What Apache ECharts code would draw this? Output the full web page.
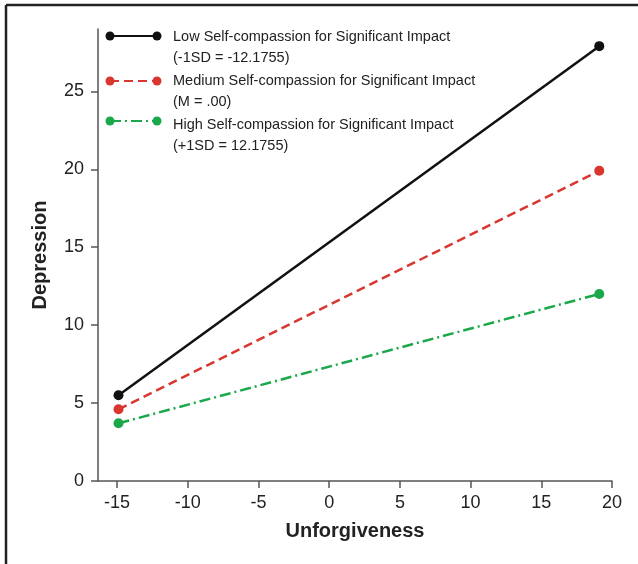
<!DOCTYPE html>
<html>
<head>
<meta charset="utf-8">
<script src="https://cdn.jsdelivr.net/npm/echarts@6/dist/echarts.min.js"></script>
<style>
html,body{margin:0;padding:0;background:#fff;}
#chart{width:638px;height:564px;}
</style>
</head>
<body>
<div id="chart"></div>
<script>
// ---- data ----
var seriesNames = [
  'Low Self-compassion for Significant Impact',
  'Medium Self-compassion for Significant Impact',
  'High Self-compassion for Significant Impact'
];
var seriesSubNames = ['(-1SD = -12.1755)', '(M = .00)', '(+1SD = 12.1755)'];
var xValues = [-14.9, 19.1];
var lowValues = [5.5, 27.9];
var mediumValues = [4.6, 19.9];
var highValues = [3.7, 12.0];
var xTicks = [-15, -10, -5, 0, 5, 10, 15, 20];
var yTicks = [0, 5, 10, 15, 20, 25];
var xAxisName = 'Unforgiveness';
var yAxisName = 'Depression';

// ---- styling ----
var colors = ['#111111', '#d8362f', '#1aa84a'];
var lineTypes = ['solid', [9, 5], [11, 4, 2, 4]];
var allValues = [lowValues, mediumValues, highValues];
var FONT = 'Liberation Sans, Arial, sans-serif';

var chart = echarts.init(document.getElementById('chart'), null, {renderer: 'canvas'});

var series = allValues.map(function (vals, i) {
  return {
    name: seriesNames[i],
    type: 'line',
    data: xValues.map(function (x, j) { return [x, vals[j]]; }),
    symbol: 'circle',
    symbolSize: 10,
    lineStyle: {color: colors[i], width: 2.5, type: lineTypes[i]},
    itemStyle: {color: colors[i]},
    z: 3 - i
  };
});

// legend drawn with graphic elements (line + two dots + two-line text)
var graphics = [
  {type: 'line', shape: {x1: 6, y1: 5, x2: 638, y2: 5}, style: {stroke: '#222', lineWidth: 2.5}},
  {type: 'line', shape: {x1: 6, y1: 5, x2: 6, y2: 564}, style: {stroke: '#222', lineWidth: 2.5}}
];
var legendIconY = [36, 81, 121];
var legendTextY = [37, 81, 125];
seriesNames.forEach(function (n, i) {
  var y = legendIconY[i];
  graphics.push({type: 'line', shape: {x1: 110, y1: y, x2: 157, y2: y},
    style: {stroke: colors[i], lineWidth: 2.2, lineDash: lineTypes[i] === 'solid' ? null : lineTypes[i]}});
  graphics.push({type: 'circle', shape: {cx: 110, cy: y, r: 4.5}, style: {fill: colors[i]}});
  graphics.push({type: 'circle', shape: {cx: 157, cy: y, r: 4.5}, style: {fill: colors[i]}});
  graphics.push({type: 'text', x: 173, y: legendTextY[i],
    style: {text: n, fill: '#222', font: '14.5px ' + FONT, verticalAlign: 'middle'}});
  graphics.push({type: 'text', x: 173, y: legendTextY[i] + 21,
    style: {text: seriesSubNames[i], fill: '#222', font: '14.5px ' + FONT, verticalAlign: 'middle'}});
});

var option = {
  animation: false,
  backgroundColor: '#fff',
  grid: {left: 98, right: 26, top: 29, bottom: 83, containLabel: false},
  xAxis: {
    type: 'value',
    min: -16.35,
    max: 20,
    name: xAxisName,
    nameLocation: 'middle',
    nameGap: 40,
    nameTextStyle: {fontFamily: FONT, fontSize: 20, fontWeight: 'bold', color: '#222', verticalAlign: 'top'},
    axisLine: {show: true, onZero: false, lineStyle: {color: '#555', width: 1.5}},
    axisTick: {show: true, length: 7, lineStyle: {color: '#555', width: 1.5}, customValues: xTicks},
    axisLabel: {fontFamily: FONT, fontSize: 18, color: '#222', margin: 13, customValues: xTicks},
    splitLine: {show: false}
  },
  yAxis: {
    type: 'value',
    min: 0,
    max: 29,
    name: yAxisName,
    nameLocation: 'middle',
    nameGap: 48,
    nameTextStyle: {fontFamily: FONT, fontSize: 20, fontWeight: 'bold', color: '#222'},
    axisLine: {show: true, onZero: false, lineStyle: {color: '#555', width: 1.5}},
    axisTick: {show: true, length: 7, lineStyle: {color: '#555', width: 1.5}, customValues: yTicks},
    axisLabel: {fontFamily: FONT, fontSize: 18, color: '#222', margin: 14, customValues: yTicks},
    splitLine: {show: false}
  },
  series: series,
  graphic: graphics
};
chart.setOption(option);
</script>
</body>
</html>
